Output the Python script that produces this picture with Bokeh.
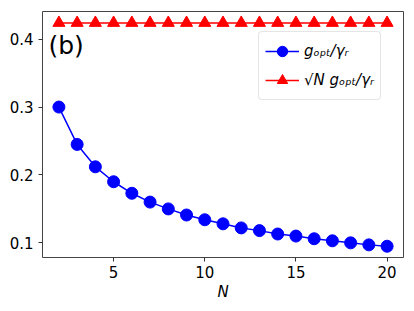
from bokeh.plotting import figure
from bokeh.models import Legend, LegendItem, Label, Range1d, FixedTicker
from bokeh.embed import file_html
from bokeh.resources import INLINE

N = [2, 3, 4, 5, 6, 7, 8, 9, 10, 11, 12, 13, 14, 15, 16, 17, 18, 19, 20]
g_opt = [0.300, 0.245, 0.212, 0.190, 0.173, 0.160, 0.150, 0.141, 0.134,
         0.128, 0.122, 0.118, 0.113, 0.110, 0.106, 0.103, 0.100, 0.097, 0.095]
sqrtN_g_opt = [0.424] * 19
x_ticks = [5, 10, 15, 20]
y_ticks = [0.1, 0.2, 0.3, 0.4]
label1 = "gₒₚₜ/γᵣ"
label2 = "√N gₒₚₜ/γᵣ"
panel = "(b)"

FONT = "DejaVu Sans"

p = figure(width=406, height=303, output_backend="svg", toolbar_location=None,
           x_range=Range1d(1.1, 20.9), y_range=Range1d(0.0784, 0.4408),
           min_border_left=42, min_border_right=3, min_border_top=11, min_border_bottom=43)
p.xgrid.visible = False
p.ygrid.visible = False
p.outline_line_color = "#444444"
p.outline_line_width = 1

for ax in (p.xaxis, p.yaxis):
    ax.axis_line_color = None
    ax.major_tick_line_color = "#333333"
    ax.major_tick_out = 4
    ax.major_tick_in = 0
    ax.minor_tick_line_color = None
    ax.major_label_text_font = FONT
    ax.major_label_text_font_size = "15px"
    ax.major_label_text_color = "black"
p.xaxis.ticker = FixedTicker(ticks=x_ticks)
p.yaxis.ticker = FixedTicker(ticks=y_ticks)
p.xaxis.axis_label = "N"
p.xaxis.axis_label_text_font = FONT
p.xaxis.axis_label_text_font_style = "italic"
p.xaxis.axis_label_text_font_size = "15px"
p.xaxis.axis_label_text_color = "black"
p.xaxis.axis_label_standoff = 2
p.xaxis.major_label_standoff = 4

bl = p.line(N, g_opt, line_color="#0000ff", line_width=1.5)
bs = p.scatter(N, g_opt, marker="circle", size=12, fill_color="#0000ff", line_color="#0000ff")
rl = p.line(N, sqrtN_g_opt, line_color="#ff0000", line_width=1.5)
rs = p.scatter(N, sqrtN_g_opt, marker="triangle", size=12, fill_color="#ff0000", line_color="#ff0000")

legend = Legend(items=[LegendItem(label=label1, renderers=[bl, bs]),
                       LegendItem(label=label2, renderers=[rl, rs])],
                location=(216, 157))
legend.label_text_font = FONT
legend.label_text_font_style = "italic"
legend.label_text_font_size = "15px"
legend.label_text_color = "black"
legend.glyph_width = 34
legend.glyph_height = 26
legend.label_height = 26
legend.spacing = 3
legend.padding = 6
legend.margin = 0
legend.border_line_color = "#cccccc"
legend.border_radius = 4
legend.background_fill_alpha = 0.8
p.add_layout(legend, "center")

p.add_layout(Label(x=6, y=198, x_units="screen", y_units="screen", text=panel,
                   text_font=FONT, text_font_size="25px", text_color="black"))

open("out.html", "w").write(file_html(p, INLINE))
